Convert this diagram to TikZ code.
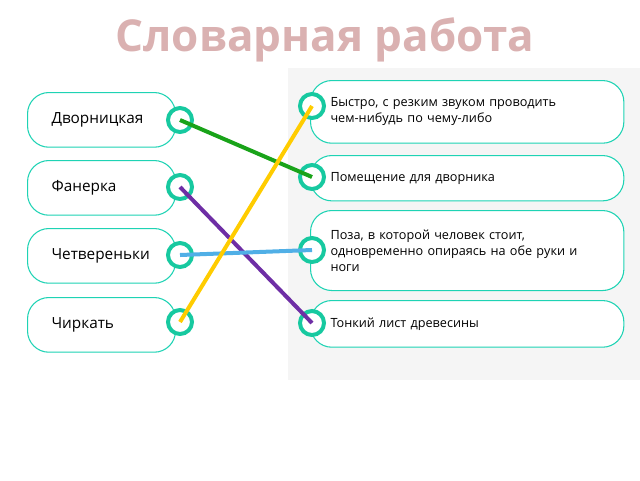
\documentclass[tikz,border=0pt]{standalone}
\usepackage{fontspec}
\setmainfont{Open Sans}
\definecolor{tq}{HTML}{1ED3B4}
\definecolor{ringc}{HTML}{17C9A0}
\begin{document}
\begin{tikzpicture}[x=0.75pt,y=-0.75pt,
  box/.style={draw=tq,line width=0.8pt,rounded corners=16pt,fill=white,anchor=north west,align=left},
  lbox/.style={box,minimum width=111pt,minimum height=41pt,font=\fontsize{11.5}{13}\selectfont,text width=75pt,inner xsep=18pt},
  rbox/.style={box,minimum width=235pt,text width=205pt,font=\fontsize{9.5}{12}\selectfont,inner xsep=15pt},
  ring/.style={circle,draw=ringc,line width=3pt,minimum size=18pt,fill=white,inner sep=0pt},
  link/.style={line width=3pt}]
\useasboundingbox (0,0) rectangle (640,480);
\fill[gray!8] (288,68) rectangle (640,380);
\node[font=\bfseries\fontsize{33}{36}\selectfont,text=red!35!gray!45] (title) at (325,40) {Словарная работа};
\node[lbox] (l1) at (27,92) {Дворницкая};
\node[lbox] (l2) at (27,160) {Фанерка};
\node[lbox] (l3) at (27,228) {Четвереньки};
\node[lbox] (l4) at (27,297) {Чиркать};
\node[rbox,minimum height=47pt] (r1) at (310,80) {Быстро, с резким звуком проводить\\чем-нибудь по чему-либо};
\node[rbox,minimum height=34pt] (r2) at (310,155) {Помещение для дворника};
\node[rbox,minimum height=60pt] (r3) at (310,210) {Поза, в которой человек стоит,\\одновременно опираясь на обе руки и\\ноги};
\node[rbox,minimum height=35pt] (r4) at (310,300) {Тонкий лист древесины};
\node[ring] (c1) at (180,120) {};
\node[ring] (c2) at (180,187) {};
\node[ring] (c3) at (180,255) {};
\node[ring] (c4) at (180,322) {};
\node[ring] (d1) at (312,106) {};
\node[ring] (d2) at (312,177) {};
\node[ring] (d3) at (312,250) {};
\node[ring] (d4) at (312,323) {};
\draw[link,green!60!black!90] (c1.center) -- (d2.center);
\draw[link,violet!70!blue!80!white!90!black] (c2.center) -- (d4.center);
\draw[link,cyan!80!blue!70] (c3.center) -- (d3.center);
\draw[link,orange!40!yellow] (c4.center) -- (d1.center);
\end{tikzpicture}
\end{document}
